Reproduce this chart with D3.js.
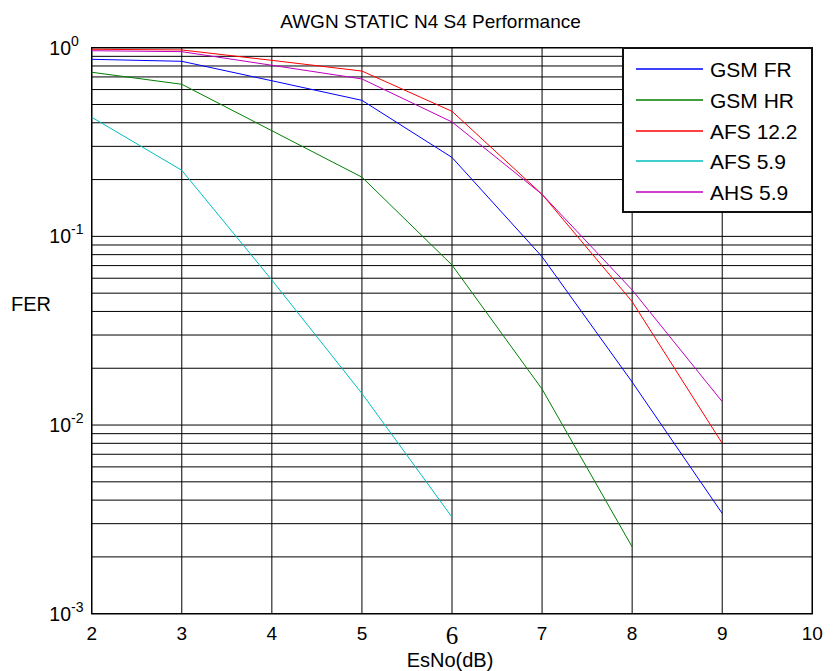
<!DOCTYPE html>
<html>
<head>
<meta charset="utf-8">
<script src="https://cdn.jsdelivr.net/npm/d3@7"></script>
<style>
  html, body { margin: 0; padding: 0; background: #fff; }
  svg { display: block; font-family: "Liberation Sans", Arial, sans-serif; }
</style>
</head>
<body>
<svg id="chart" width="833" height="671"></svg>
<script>
// ---- data ----
const xValues = [2, 3, 4, 5, 6, 7, 8, 9];
const seriesNames = ["GSM FR", "GSM HR", "AFS 12.2", "AFS 5.9", "AHS 5.9"];
const gsmFR  = [0.868, 0.847, 0.668, 0.526, 0.262, 0.078, 0.0169, 0.0034];
const gsmHR  = [0.741, 0.640, 0.363, 0.206, 0.0705, 0.0155, 0.00226];
const afs122 = [0.981, 0.973, 0.857, 0.752, 0.46, 0.167, 0.0451, 0.0080];
const afs59  = [0.428, 0.224, 0.0587, 0.0147, 0.00325];
const ahs59  = [0.964, 0.953, 0.807, 0.683, 0.404, 0.167, 0.052, 0.0133];
const xTickLabels = ["2", "3", "4", "5", "6", "7", "8", "9", "10"];
const yDecades = [0, -1, -2, -3];
const titleText = "AWGN STATIC N4 S4 Performance";
const xLabel = "EsNo(dB)";
const yLabel = "FER";

// ---- layout ----
const pLeft = 91.7, pRight = 812.3, pTop = 47.7, pBottom = 613.7;
const colors = ["#0000ff", "#008000", "#ff0000", "#00bfbf", "#bf00bf"];
const seriesData = [gsmFR, gsmHR, afs122, afs59, ahs59];

const svg = d3.select("#chart");
const x = d3.scaleLinear().domain([2, 10]).range([pLeft, pRight]);
const y = d3.scaleLog().domain([1e-3, 1]).range([pBottom, pTop]);

// grid: vertical
const xTicks = xTickLabels.map(Number);
svg.append("g").selectAll("line").data(xTicks).join("line")
  .attr("x1", d => x(d)).attr("x2", d => x(d))
  .attr("y1", pTop).attr("y2", pBottom)
  .attr("stroke", "#000").attr("stroke-width", 1);

// grid: horizontal (major + minor)
const hVals = [];
for (let e = -3; e < 0; e++) {
  for (let m = 1; m <= 9; m++) hVals.push(m * Math.pow(10, e));
}
hVals.push(1);
svg.append("g").selectAll("line").data(hVals).join("line")
  .attr("x1", pLeft).attr("x2", pRight)
  .attr("y1", d => y(d)).attr("y2", d => y(d))
  .attr("stroke", "#000").attr("stroke-width", 1);

// axes box
svg.append("rect")
  .attr("x", pLeft).attr("y", pTop)
  .attr("width", pRight - pLeft).attr("height", pBottom - pTop)
  .attr("fill", "none").attr("stroke", "#000").attr("stroke-width", 1.4);

// series lines
const line = d3.line().x((d, i) => x(xValues[i])).y(d => y(d));
seriesData.forEach((s, i) => {
  svg.append("path").datum(s)
    .attr("d", line)
    .attr("fill", "none")
    .attr("stroke", colors[i])
    .attr("stroke-width", 1);
});

// x tick labels
svg.append("g").selectAll("text").data(xTickLabels).join("text")
  .attr("x", d => x(+d))
  .attr("y", d => d === "6" ? 644 : 640)
  .attr("text-anchor", "middle")
  .attr("font-family", d => d === "6" ? "'Liberation Serif', 'Times New Roman', serif" : null)
  .attr("font-size", d => d === "6" ? 25 : 19)
  .attr("fill", "#000")
  .text(d => d);

// y tick labels 10^e
const yl = svg.append("g");
yDecades.forEach(e => {
  const t = yl.append("text")
    .attr("x", 49.3).attr("y", y(Math.pow(10, e)) + 7)
    .attr("font-size", 19.5).attr("fill", "#000");
  t.append("tspan").text("10");
  t.append("tspan").attr("dy", -9).attr("font-size", 14).text(String(e));
});

// title
svg.append("text")
  .attr("x", 430.5).attr("y", 28)
  .attr("text-anchor", "middle")
  .attr("font-size", 19).attr("fill", "#000")
  .text(titleText);

// axis labels
svg.append("text")
  .attr("x", 450).attr("y", 667)
  .attr("text-anchor", "middle")
  .attr("font-size", 20).attr("fill", "#000")
  .text(xLabel);
svg.append("text")
  .attr("x", 11).attr("y", 310.7)
  .attr("font-size", 20).attr("fill", "#000")
  .text(yLabel);

// legend
const lgX = 623, lgY = 48, lgW = 189, lgH = 164;
const lg = svg.append("g");
lg.append("rect")
  .attr("x", lgX).attr("y", lgY).attr("width", lgW).attr("height", lgH)
  .attr("fill", "#fff").attr("stroke", "#111").attr("stroke-width", 2);
seriesNames.forEach((name, i) => {
  const cy = Math.round(69 + i * 30.8);
  lg.append("line")
    .attr("x1", 636).attr("x2", 703)
    .attr("y1", cy).attr("y2", cy)
    .attr("stroke", colors[i]).attr("stroke-width", 2)
    .attr("stroke-opacity", 0.75);
  lg.append("text")
    .attr("x", 710).attr("y", cy + 7.5)
    .attr("font-size", 21).attr("fill", "#000")
    .text(name);
});
</script>
</body>
</html>
